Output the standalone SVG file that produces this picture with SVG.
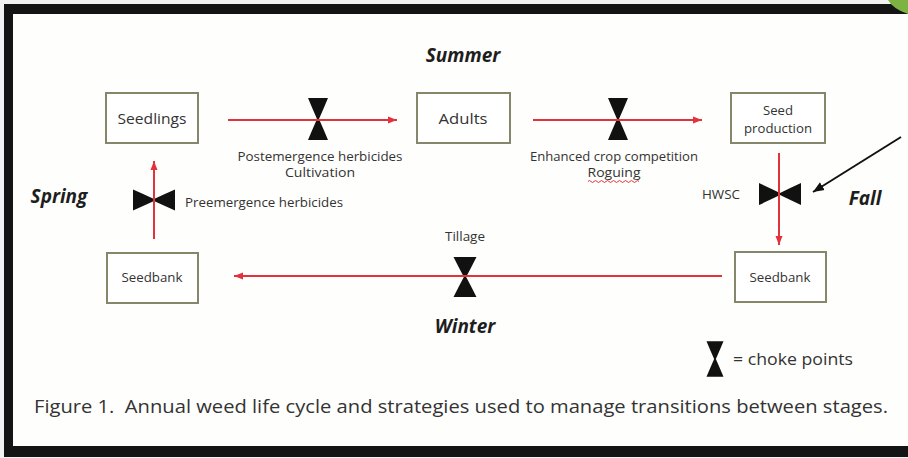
<svg xmlns="http://www.w3.org/2000/svg" width="908" height="458" viewBox="0 0 908 458">
  <defs>
    <style>
      .box { fill: #ffffff; stroke: #86866a; stroke-width: 2; }
      .lbl { font-family: "Open Sans", "Liberation Sans", sans-serif; fill: #333333; }
      .season { font-family: "Open Sans", "Liberation Sans", sans-serif; font-weight: bold; font-style: italic; font-size: 19px; fill: #1e1e1e; }
      .conn { fill: none; stroke: #e2323c; stroke-width: 2; }
      .black { fill: none; stroke: #111111; stroke-width: 2; }
      .choke { fill: #111111; }
    </style>
    <marker id="ahRed" markerUnits="userSpaceOnUse" markerWidth="10" markerHeight="8" refX="9" refY="4" orient="auto">
      <path d="M0,0.5 L9,4 L0,7.5 Z" fill="#e2323c"/>
    </marker>
    <marker id="ahBlack" markerUnits="userSpaceOnUse" markerWidth="12" markerHeight="10" refX="11" refY="5" orient="auto">
      <path d="M0,0.5 L11,5 L0,9.5 Z" fill="#111111"/>
    </marker>
    <path id="hg" d="M-10,-21 H10 Q5,-9 1,0 Q5,9 10,21 H-10 Q-5,9 -1,0 Q-5,-9 -10,-21 Z"/>
  </defs>

  <!-- frame -->
  <rect x="0" y="0" width="908" height="458" fill="#f2f2f2"/>
  <rect x="4" y="4" width="904" height="453" fill="#141414"/>
  <rect x="13" y="14" width="895" height="432" fill="#fefefc"/>
  <path d="M888,0 Q893,9 908,14 V0 Z" fill="#7cb342"/>

  <!-- season labels -->
  <g id="seasons">
    <text class="season" x="463" y="62" text-anchor="middle">Summer</text>
    <text class="season" x="59" y="203" text-anchor="middle">Spring</text>
    <text class="season" x="865" y="205" text-anchor="middle">Fall</text>
    <text class="season" x="465" y="333" text-anchor="middle">Winter</text>
  </g>

  <!-- nodes -->
  <g id="seedlings">
    <rect class="box" x="106" y="93" width="92" height="50"/>
    <text class="lbl" x="152" y="124" text-anchor="middle" font-size="14.5" textLength="69" lengthAdjust="spacingAndGlyphs">Seedlings</text>
  </g>
  <g id="adults">
    <rect class="box" x="417" y="93" width="93" height="50"/>
    <text class="lbl" x="463" y="124" text-anchor="middle" font-size="14.5" textLength="49" lengthAdjust="spacingAndGlyphs">Adults</text>
  </g>
  <g id="seed-production">
    <rect class="box" x="731" y="93" width="94" height="50"/>
    <text class="lbl" x="778" y="115" text-anchor="middle" font-size="12.5" textLength="30" lengthAdjust="spacingAndGlyphs">Seed</text>
    <text class="lbl" x="778" y="133" text-anchor="middle" font-size="12.5" textLength="68" lengthAdjust="spacingAndGlyphs">production</text>
  </g>
  <g id="seedbank-right">
    <rect class="box" x="735" y="252" width="91" height="50"/>
    <text class="lbl" x="780" y="282" text-anchor="middle" font-size="12.5" textLength="61" lengthAdjust="spacingAndGlyphs">Seedbank</text>
  </g>
  <g id="seedbank-left">
    <rect class="box" x="107" y="253" width="91" height="50"/>
    <text class="lbl" x="152" y="282" text-anchor="middle" font-size="12.5" textLength="61" lengthAdjust="spacingAndGlyphs">Seedbank</text>
  </g>

  <!-- choke points -->
  <g id="choke-postemergence">
    <use href="#hg" class="choke" transform="translate(318,119)"/>
    <text class="lbl" x="320" y="161" text-anchor="middle" font-size="12.5" textLength="165" lengthAdjust="spacingAndGlyphs">Postemergence herbicides</text>
    <text class="lbl" x="320" y="177" text-anchor="middle" font-size="12.5" textLength="70" lengthAdjust="spacingAndGlyphs">Cultivation</text>
  </g>
  <g id="choke-competition">
    <use href="#hg" class="choke" transform="translate(618,119)"/>
    <text class="lbl" x="614" y="161" text-anchor="middle" font-size="12.5" textLength="168" lengthAdjust="spacingAndGlyphs">Enhanced crop competition</text>
    <text class="lbl" x="614" y="177" text-anchor="middle" font-size="12.5" textLength="53" lengthAdjust="spacingAndGlyphs">Roguing</text>
    <path d="M588,181.5 q1.5,-2 3,0 t3,0 t3,0 t3,0 t3,0 t3,0 t3,0 t3,0 t3,0 t3,0 t3,0 t3,0 t3,0 t3,0 t3,0 t3,0 t3,0" fill="none" stroke="#e2323c" stroke-width="1"/>
  </g>
  <g id="choke-hwsc">
    <use href="#hg" class="choke" transform="translate(780,194) rotate(90) scale(1.1,1)"/>
    <text class="lbl" x="721" y="199" text-anchor="middle" font-size="12" textLength="38" lengthAdjust="spacingAndGlyphs">HWSC</text>
  </g>
  <g id="choke-tillage">
    <use href="#hg" class="choke" transform="translate(465,277) scale(1.15,0.95)"/>
    <text class="lbl" x="465" y="241" text-anchor="middle" font-size="12" textLength="40" lengthAdjust="spacingAndGlyphs">Tillage</text>
  </g>
  <g id="choke-preemergence">
    <use href="#hg" class="choke" transform="translate(154,200) rotate(90) scale(1.05,1)"/>
    <text class="lbl" x="185" y="207" font-size="12.5" textLength="158" lengthAdjust="spacingAndGlyphs">Preemergence herbicides</text>
  </g>

  <!-- legend -->
  <g id="legend">
    <use href="#hg" class="choke" transform="translate(715,359) scale(0.85,0.85)"/>
    <text class="lbl" x="733" y="365" font-size="17" textLength="120" lengthAdjust="spacingAndGlyphs">= choke points</text>
  </g>

  <!-- connectors -->
  <g id="connectors">
    <path class="conn" d="M228,120 H397" marker-end="url(#ahRed)"/>
    <path class="conn" d="M533,120 H702" marker-end="url(#ahRed)"/>
    <path class="conn" d="M779,153 V245" marker-end="url(#ahRed)"/>
    <path class="conn" d="M722,276 H234" marker-end="url(#ahRed)"/>
    <path class="conn" d="M154,239 V161" marker-end="url(#ahRed)"/>
    <path class="black" d="M901,137 L813,192" marker-end="url(#ahBlack)"/>
  </g>

  <!-- caption -->
  <text id="caption" class="lbl" x="34" y="413" font-size="19" fill="#2a2a2a" textLength="854" lengthAdjust="spacingAndGlyphs" xml:space="preserve">Figure 1.  Annual weed life cycle and strategies used to manage transitions between stages.</text>
</svg>
